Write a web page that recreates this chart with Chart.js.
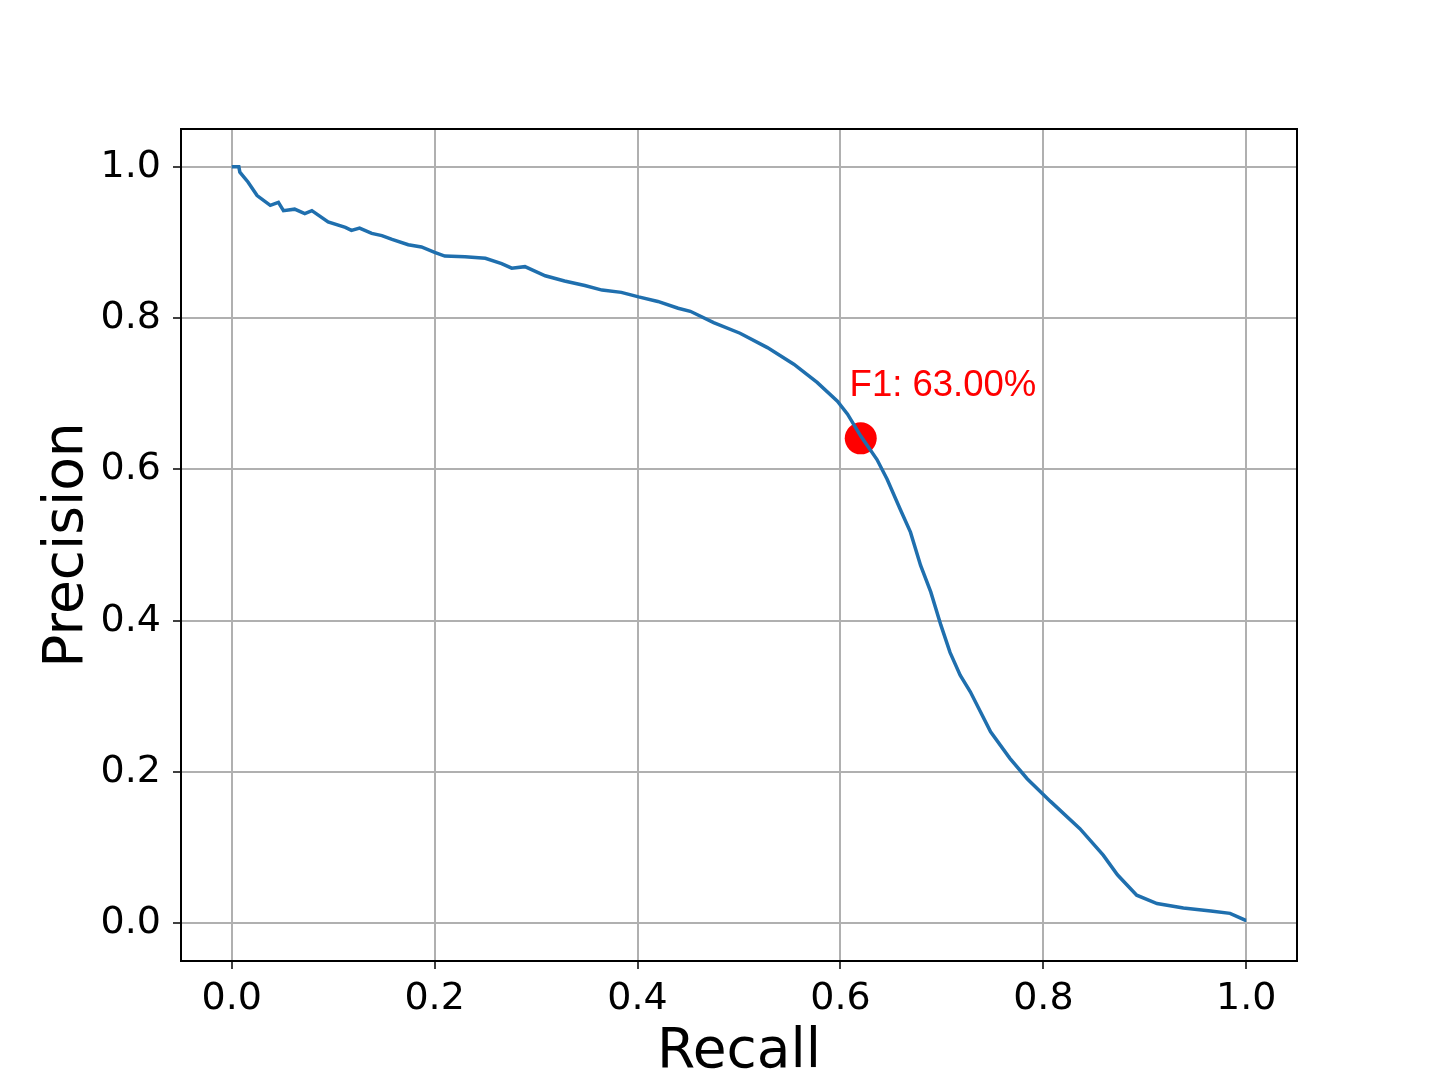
<!DOCTYPE html>
<html>
<head>
<meta charset="utf-8">
<title>Precision-Recall</title>
<script src="https://cdn.jsdelivr.net/npm/chart.js@4.4.1/dist/chart.umd.min.js"></script>
<style>
  html, body { margin: 0; padding: 0; background: #fff; }
  canvas { display: block; }
</style>
</head>
<body>
<canvas id="chart" width="1440" height="1078"></canvas>
<script>
// PR curve
const recall = [0.0, 0.007, 0.008, 0.016, 0.025, 0.038, 0.046, 0.051, 0.062, 0.072,
  0.079, 0.095, 0.112, 0.118, 0.126, 0.138, 0.148, 0.158, 0.174, 0.187,
  0.200, 0.210, 0.230, 0.250, 0.266, 0.276, 0.289, 0.309, 0.328, 0.348,
  0.365, 0.384, 0.401, 0.420, 0.440, 0.452, 0.475, 0.501, 0.528, 0.554,
  0.577, 0.597, 0.607, 0.620, 0.636, 0.646, 0.659, 0.669, 0.679, 0.689,
  0.699, 0.708, 0.718, 0.728, 0.748, 0.767, 0.784, 0.807, 0.836, 0.859,
  0.873, 0.892, 0.912, 0.938, 0.965, 0.984, 0.999, 1.0];
const precision = [1.0, 1.0, 0.993, 0.980, 0.962, 0.949, 0.953, 0.942, 0.944, 0.938,
  0.942, 0.927, 0.920, 0.916, 0.919, 0.912, 0.909, 0.904, 0.897, 0.894,
  0.887, 0.882, 0.881, 0.879, 0.872, 0.866, 0.868, 0.856, 0.849, 0.843,
  0.837, 0.834, 0.828, 0.822, 0.813, 0.809, 0.794, 0.780, 0.761, 0.739,
  0.715, 0.690, 0.673, 0.644, 0.613, 0.587, 0.547, 0.517, 0.473, 0.438,
  0.394, 0.358, 0.328, 0.306, 0.253, 0.218, 0.191, 0.161, 0.125, 0.090,
  0.064, 0.037, 0.026, 0.020, 0.016, 0.013, 0.004, 0.004];

// best F1 point and its label
const f1Point = { x: 0.62, y: 0.641 };
const f1Text = 'F1: 63.00%';
const f1TextPos = { x: 0.609, y: 0.697 };

const tickVals = [0.0, 0.2, 0.4, 0.6, 0.8, 1.0];

const curve = recall.map((r, i) => ({ x: r, y: precision[i] }));

// frame around the plot area + F1 label
const framePlugin = {
  id: 'frame',
  afterDatasetsDraw(chart) {
    const { ctx, chartArea: a, scales } = chart;
    ctx.save();
    ctx.fillStyle = '#ff0000';
    ctx.font = '36.5px "Liberation Sans", Arial, sans-serif';
    ctx.textAlign = 'left';
    ctx.textBaseline = 'alphabetic';
    ctx.fillText(f1Text, scales.x.getPixelForValue(f1TextPos.x), scales.y.getPixelForValue(f1TextPos.y));
    ctx.strokeStyle = '#000';
    ctx.lineWidth = 2;
    ctx.strokeRect(a.left, a.top, a.right - a.left, a.bottom - a.top);
    ctx.restore();
  }
};

const tickFont = { family: '"DejaVu Sans", sans-serif', size: 38 };
const titleFont = { family: '"DejaVu Sans", sans-serif', size: 55, lineHeight: 1 };

new Chart(document.getElementById('chart').getContext('2d'), {
  type: 'scatter',
  data: {
    datasets: [{
      label: 'PR curve',
      data: curve,
      showLine: true,
      borderColor: '#1f6fae',
      borderWidth: 3.5,
      pointRadius: 0,
      tension: 0,
      order: 1
    }, {
      label: 'F1',
      data: [f1Point],
      pointRadius: 16,
      pointBackgroundColor: '#ff0000',
      pointBorderWidth: 0,
      order: 2
    }]
  },
  options: {
    responsive: false,
    animation: false,
    layout: { padding: { left: 40, right: 143, top: 129, bottom: 0 } },
    plugins: { legend: { display: false }, tooltip: { enabled: false } },
    scales: {
      x: {
        type: 'linear',
        min: -0.05,
        max: 1.05,
        afterBuildTicks: s => { s.ticks = tickVals.map(v => ({ value: v })); },
        afterFit: s => { s.height = 117; },
        ticks: { color: '#000', font: tickFont, padding: 7, maxRotation: 0,
          callback: v => v.toFixed(1) },
        grid: { color: '#b0b0b0', lineWidth: 2, tickColor: '#000', tickLength: 8, tickWidth: 1.5 },
        border: { display: false },
        title: { display: true, text: 'Recall', color: '#000', font: titleFont, padding: { top: 0, bottom: -2 } }
      },
      y: {
        type: 'linear',
        min: -0.05,
        max: 1.05,
        afterBuildTicks: s => { s.ticks = tickVals.map(v => ({ value: v })); },
        afterFit: s => { s.width = 141; },
        ticks: { color: '#000', font: tickFont, padding: 12,
          callback: v => v.toFixed(1) },
        grid: { color: '#b0b0b0', lineWidth: 2, tickColor: '#000', tickLength: 8, tickWidth: 1.5 },
        border: { display: false },
        title: { display: true, text: 'Precision', color: '#000', font: titleFont, padding: 0 }
      }
    }
  },
  plugins: [framePlugin]
});
</script>
</body>
</html>
